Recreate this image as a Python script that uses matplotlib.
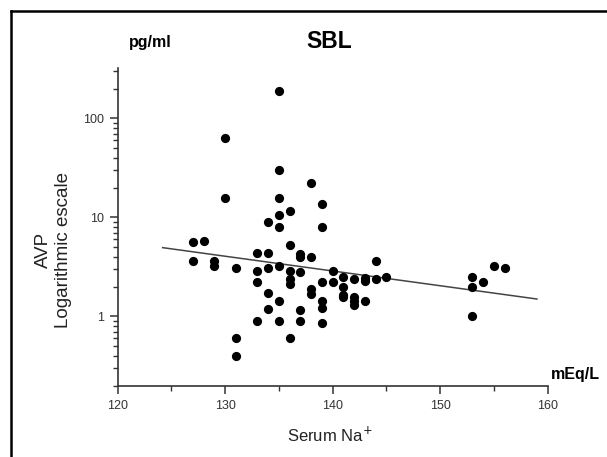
import numpy as np
import matplotlib
matplotlib.use("Agg")
import matplotlib.pyplot as plt
from matplotlib.lines import Line2D
from matplotlib.ticker import LogLocator, FixedLocator, NullFormatter

plt.rcParams['font.family'] = ['Liberation Sans', 'DejaVu Sans']

# serum sodium (mEq/L) and AVP (pg/ml)
na = [127, 127, 128, 129, 129, 130, 130, 131, 131, 131,
      133, 133, 133, 133, 134, 134, 134, 134, 134,
      135, 135, 135, 135, 135, 135, 135, 135,
      136, 136, 136, 136, 136, 136,
      137, 137, 137, 137, 137,
      138, 138, 138, 138,
      139, 139, 139, 139, 139, 139,
      140, 140, 141, 141, 141, 141,
      142, 142, 142, 142, 143, 143, 143,
      144, 144, 145, 153, 153, 153, 154, 155, 156]
avp = [5.6, 3.6, 5.8, 3.65, 3.25, 64, 15.8, 3.1, 0.6, 0.4,
       4.4, 2.85, 2.22, 0.91, 9.0, 4.4, 3.05, 1.72, 1.2,
       187, 30, 15.8, 10.6, 8.0, 3.24, 1.42, 0.91,
       11.5, 5.27, 2.88, 2.4, 2.12, 0.6,
       4.25, 4.0, 2.84, 1.17, 0.91,
       22, 4.0, 1.89, 1.69,
       13.7, 8.0, 2.22, 1.42, 1.22, 0.86,
       2.88, 2.22, 2.53, 2.0, 1.65, 1.57,
       2.4, 1.59, 1.42, 1.31, 2.47, 2.29, 1.42,
       3.64, 2.4, 2.5, 2.5, 1.98, 1.0, 2.22, 3.22, 3.05]

# regression line end points
fit_x = [124.2, 159.0]
fit_y = [4.95, 1.50]

xticks = [120, 130, 140, 150, 160]

fig = plt.figure(figsize=(6.07, 4.57), dpi=100)
ax = fig.add_axes([117.5/607, 1-385.7/457, (547.7-117.5)/607, (385.7-68.3)/457])

ax.scatter(na, avp, s=44, color='black', zorder=3, linewidths=0)
ax.plot(fit_x, fit_y, color='#444444', lw=1.1, zorder=2)

ax.set_yscale('log')
ax.set_xlim(120, 160)
ax.set_ylim(0.2, 320)

ax.xaxis.set_major_locator(FixedLocator(xticks))
ax.xaxis.set_minor_locator(FixedLocator([125, 135, 145, 155]))
ax.yaxis.set_major_locator(LogLocator(base=10, numticks=10))
ax.yaxis.set_minor_locator(LogLocator(base=10, subs=np.arange(2, 10), numticks=10))
ax.yaxis.set_minor_formatter(NullFormatter())
ax.set_yticks([1, 10, 100])
ax.set_yticklabels(['1', '10', '100'])

for s in ['top', 'right']:
    ax.spines[s].set_visible(False)
for s in ['left', 'bottom']:
    ax.spines[s].set_color('#333333')
    ax.spines[s].set_linewidth(1.2)

ax.tick_params(axis='both', which='major', length=6, width=1.1, color='#333333',
               labelsize=9, labelcolor='#333333', pad=4)
ax.tick_params(axis='both', which='minor', length=3.5, width=1.0, color='#333333')

fig.text(329/607, 1-42/457, 'SBL', ha='center', va='center', fontsize=16.5, fontweight='bold')
fig.text(150/607, 1-42/457, 'pg/ml', ha='center', va='center', fontsize=11.5, fontweight='bold')
fig.text(575/607, 1-375/457, 'mEq/L', ha='center', va='center', fontsize=11.5, fontweight='bold')
fig.text(330/607, 1-435/457, 'Serum Na$^{+}$', ha='center', va='center', fontsize=12, color='#222222')
fig.text(43/607, 1-250/457, 'AVP', ha='center', va='center', rotation=90, fontsize=13.5, color='#222222')
fig.text(63/607, 1-250/457, 'Logarithmic escale', ha='center', va='center', rotation=90,
         fontsize=13.5, color='#222222')

# outer frame (left and top edges visible)
fig.add_artist(Line2D([10.5/607, 10.5/607], [0, 1-11/457], transform=fig.transFigure,
                      color='black', lw=1.8))
fig.add_artist(Line2D([10.5/607, 1], [1-11/457, 1-11/457], transform=fig.transFigure,
                      color='black', lw=1.8))

fig.savefig('out.png', dpi=100)
